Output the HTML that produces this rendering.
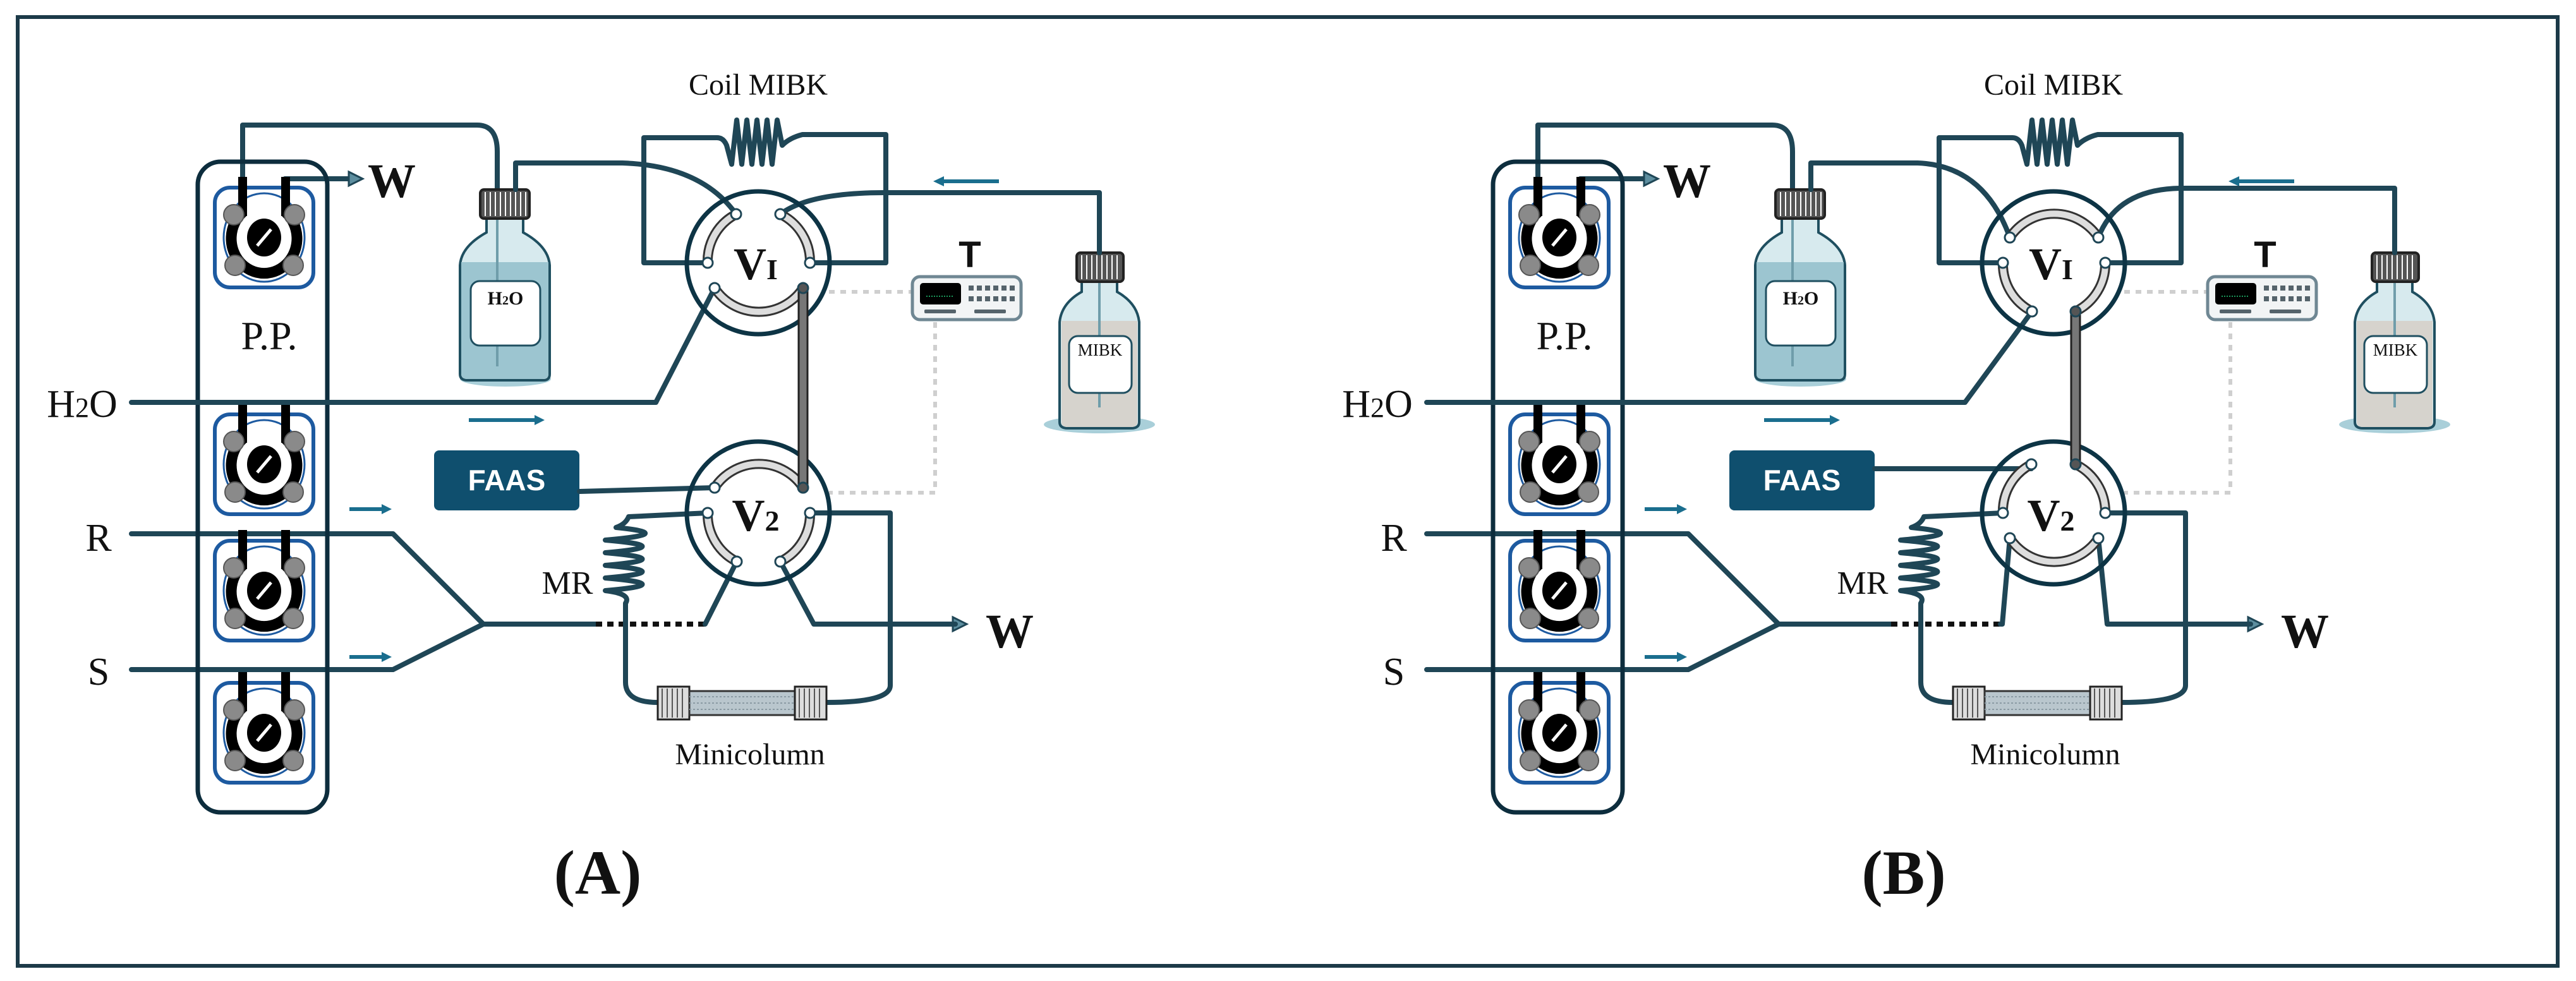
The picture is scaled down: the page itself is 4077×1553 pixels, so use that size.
<!DOCTYPE html>
<html><head><meta charset="utf-8"><style>
html,body{margin:0;padding:0;background:#fff;}
svg{display:block;}
.t{fill:none;stroke:#1f4656;stroke-width:8;stroke-linejoin:round;stroke-linecap:round;}
.ti{fill:none;stroke:#5d8e9f;stroke-width:3;stroke-linejoin:round;}
.ser{font-family:"Liberation Serif",serif;fill:#111;}
.dot{fill:none;stroke:#cfcfcf;stroke-width:6;stroke-dasharray:9 9;}
.ar{stroke:#1a6e8e;stroke-width:6;fill:none;}
</style></head><body>
<svg width="4077" height="1553" viewBox="0 0 4077 1553" xmlns="http://www.w3.org/2000/svg">
<defs>
<g id="pump">
<rect x="-78" y="-79" width="156" height="158" rx="24" fill="#fff" stroke="#1d5aa0" stroke-width="6"/>
<ellipse rx="64" ry="70" fill="none" stroke="#1d5aa0" stroke-width="3"/>
<path d="M-34,-40 A52,55 0 1,0 34,-40" fill="none" stroke="#000" stroke-width="17"/>
<rect x="-41" y="-96" width="14" height="62" fill="#000"/>
<rect x="27" y="-96" width="14" height="62" fill="#000"/>
<circle cx="-48" cy="-36" r="16" fill="#8a8a8a" stroke="#555" stroke-width="2"/>
<circle cx="48" cy="-36" r="16" fill="#8a8a8a" stroke="#555" stroke-width="2"/>
<circle cx="-46" cy="44" r="16" fill="#8a8a8a" stroke="#555" stroke-width="2"/>
<circle cx="46" cy="44" r="16" fill="#8a8a8a" stroke="#555" stroke-width="2"/>
<ellipse rx="27" ry="30" fill="#000"/>
<line x1="-11" y1="13" x2="11" y2="-13" stroke="#fff" stroke-width="5"/>
</g>
<g id="pumps">
<rect x="313" y="256" width="205" height="1030" rx="36" fill="none" stroke="#0d2d3d" stroke-width="7"/>
<use href="#pump" x="418" y="376"/>
<use href="#pump" x="418" y="735"/>
<use href="#pump" x="418" y="935"/>
<use href="#pump" x="418" y="1160"/>
<text x="426" y="553" font-size="64" text-anchor="middle" class="ser">P.P.</text>
</g>
<g id="bottleH">
<ellipse cx="800" cy="600" rx="72" ry="12" fill="#a9cfd9"/>
<path d="M770,345 L770,368 Q730,390 728,420 L728,592 Q728,602 740,602 L860,602 Q870,602 870,592 L870,420 Q868,390 828,368 L828,345 Z" fill="#d7eaee" stroke="#1f4f60" stroke-width="4"/>
<path d="M730,415 L868,415 L868,592 Q868,600 858,600 L740,600 Q730,600 730,592 Z" fill="#9cc5d0"/>
<line x1="787" y1="345" x2="787" y2="580" stroke="#6f9daa" stroke-width="4"/>
<rect x="745" y="445" width="110" height="102" rx="14" fill="#fff" stroke="#1f4f60" stroke-width="3"/>
<text x="800" y="482" font-size="30" text-anchor="middle" class="ser" font-weight="bold">H<tspan font-size="20">2</tspan>O</text>
<rect x="760" y="300" width="78" height="46" rx="6" fill="#555" stroke="#222" stroke-width="4"/>
<path d="M768,304v38M776,304v38M784,304v38M792,304v38M800,304v38M808,304v38M816,304v38M824,304v38M832,304v38" stroke="#fff" stroke-width="2"/>
</g>
<g id="bottleM">
<ellipse cx="1740" cy="672" rx="88" ry="14" fill="#a9cfd9"/>
<path d="M1712,445 L1712,462 Q1680,480 1677,510 L1677,668 Q1677,678 1690,678 L1790,678 Q1803,678 1803,668 L1803,510 Q1800,480 1768,462 L1768,445 Z" fill="#d7eaee" stroke="#1f4f60" stroke-width="4"/>
<path d="M1680,508 L1800,508 L1800,668 Q1800,676 1790,676 L1690,676 Q1680,676 1680,668 Z" fill="#d6d3cd"/>
<line x1="1740" y1="445" x2="1740" y2="645" stroke="#6f9daa" stroke-width="4"/>
<rect x="1692" y="532" width="99" height="90" rx="14" fill="#fff" stroke="#1f4f60" stroke-width="3"/>
<text x="1741" y="563" font-size="27" text-anchor="middle" class="ser">MIBK</text>
<rect x="1704" y="400" width="74" height="46" rx="6" fill="#555" stroke="#222" stroke-width="4"/>
<path d="M1712,404v38M1720,404v38M1728,404v38M1736,404v38M1744,404v38M1752,404v38M1760,404v38M1768,404v38" stroke="#fff" stroke-width="2"/>
</g>
<g id="tdev">
<rect x="1444" y="438" width="172" height="68" rx="12" fill="#f2f4f5" stroke="#6f8793" stroke-width="5"/>
<rect x="1456" y="448" width="65" height="34" rx="5" fill="#000"/>
<line x1="1466" y1="469" x2="1510" y2="469" stroke="#1a9a5a" stroke-width="2" stroke-dasharray="2 2"/>
<g fill="#55636b"><rect x="1533" y="452" width="8" height="8"/><rect x="1546" y="452" width="8" height="8"/><rect x="1559" y="452" width="8" height="8"/><rect x="1572" y="452" width="8" height="8"/><rect x="1585" y="452" width="8" height="8"/><rect x="1598" y="452" width="8" height="8"/>
<rect x="1533" y="469" width="8" height="8"/><rect x="1546" y="469" width="8" height="8"/><rect x="1559" y="469" width="8" height="8"/><rect x="1572" y="469" width="8" height="8"/><rect x="1585" y="469" width="8" height="8"/><rect x="1598" y="469" width="8" height="8"/>
<rect x="1463" y="490" width="50" height="6" rx="2"/><rect x="1542" y="490" width="50" height="6" rx="2"/></g>
<text x="1535" y="423" font-size="58" font-weight="bold" text-anchor="middle" font-family="Liberation Sans,sans-serif" fill="#111">T</text>
</g>
<g id="common">
<text x="1200" y="150" font-size="48" text-anchor="middle" class="ser">Coil MIBK</text>
<path class="t" d="M1120,416 L1019,416 L1019,218 L1135,218 Q1145,218 1150,230 l8,30 l8,-70 l8,70 l8,-70 l8,70 l8,-70 l8,70 l8,-70 l8,70 l8,-70 l8,40 Q1250,218 1270,213 L1402,213 L1402,416 L1282,416"/>
<path class="t" d="M384,282 L384,198 L755,198 Q787,198 787,240 L787,300"/>
<path class="t" d="M451,283 L555,283"/>
<path d="M552,272 L574,283 L552,294 Z" fill="#5d8e9f" stroke="#1f4656" stroke-width="3"/>
<text x="620" y="312" font-size="76" font-weight="bold" text-anchor="middle" class="ser">W</text>
<text x="130" y="660" font-size="62" text-anchor="middle" class="ser">H<tspan font-size="44">2</tspan>O</text>
<path class="ar" d="M742,665 L850,665"/><path d="M846,657 L862,665 L846,673 Z" fill="#1a6e8e"/>
<rect x="687" y="713" width="230" height="95" rx="8" fill="#0f4f6e"/>
<text x="802" y="776" font-size="46" font-weight="bold" text-anchor="middle" font-family="Liberation Sans,sans-serif" fill="#fff">FAAS</text>
<text x="156" y="872" font-size="62" text-anchor="middle" class="ser">R</text>
<text x="156" y="1084" font-size="62" text-anchor="middle" class="ser">S</text>
<path class="t" d="M208,845 L622,845 L765,988 L943,988"/>
<path class="t" d="M208,1060 L622,1060 L765,988"/>
<path d="M943,988 L1116,988" stroke="#111" stroke-width="8" stroke-dasharray="10 8" fill="none"/>
<path class="ar" d="M553,806 L608,806"/><path d="M604,798 L620,806 L604,814 Z" fill="#1a6e8e"/>
<path class="ar" d="M553,1040 L608,1040"/><path d="M604,1032 L620,1040 L604,1048 Z" fill="#1a6e8e"/>
<path class="ar" d="M1490,287 L1581,287"/><path d="M1494,279 L1477,287 L1494,295 Z" fill="#1a6e8e"/>
<text x="898" y="940" font-size="52" text-anchor="middle" class="ser">MR</text>
<path class="t" d="M1120,812 L995,818 Q990,830 975,835 Q1075,845 958,855 Q1075,865 958,875 Q1075,885 958,895 Q1075,905 958,915 Q1075,925 958,935 Q1000,940 990,955 L990,1080 Q990,1112 1041,1112"/>
<path class="t" d="M1282,812 L1409,812 L1409,1085 Q1409,1112 1308,1112"/>
<rect x="1041" y="1087" width="50" height="52" fill="#ddd" stroke="#222" stroke-width="3"/>
<path d="M1048,1090v46M1056,1090v46M1064,1090v46M1072,1090v46M1080,1090v46" stroke="#555" stroke-width="2"/>
<rect x="1091" y="1094" width="170" height="38" fill="#b9c6cd" stroke="#333" stroke-width="3"/>
<path d="M1091,1103h170M1091,1113h170M1091,1123h170" stroke="#8a9aa3" stroke-width="2" stroke-dasharray="3 3"/>
<rect x="1258" y="1087" width="50" height="52" fill="#ddd" stroke="#222" stroke-width="3"/>
<path d="M1265,1090v46M1273,1090v46M1281,1090v46M1289,1090v46M1297,1090v46" stroke="#555" stroke-width="2"/>
<text x="1187" y="1210" font-size="48" text-anchor="middle" class="ser">Minicolumn</text>
<path d="M1508,977 L1530,988 L1508,999 Z" fill="#5d8e9f" stroke="#1f4656" stroke-width="3"/>
<text x="1598" y="1025" font-size="76" font-weight="bold" text-anchor="middle" class="ser">W</text>
<path class="dot" d="M1312,462 L1444,462"/>
<path class="dot" d="M1480,510 L1480,780 L1312,780"/>
<use href="#bottleH"/><use href="#bottleM"/><use href="#tdev"/><use href="#pumps"/>
</g>
<g id="valve">
<circle r="113" fill="none" stroke="#0d3445" stroke-width="7"/>
</g>
</defs>

<rect x="28" y="27" width="4020" height="1502" fill="none" stroke="#1c3a48" stroke-width="6"/>

<g>
<use href="#common"/>
<path class="t" d="M816,300 L816,258 L985,258 Q1110,262 1165,339"/>
<path class="t" d="M1235,339 Q1280,305 1400,305 L1740,305 L1740,400"/>
<path class="t" d="M208,637 L1038,637 L1131,456"/>
<path class="t" d="M917,778 L1131,772"/>
<path class="t" d="M1166,889 L1116,988"/>
<path class="t" d="M1235,889 L1288,988 L1512,988"/>
<use href="#valve" x="1200" y="416"/>
<g fill="none">
<path d="M1165,339 A84,84 0 0,0 1120,416" stroke="#333" stroke-width="16"/><path d="M1165,339 A84,84 0 0,0 1120,416" stroke="#ddd" stroke-width="10"/>
<path d="M1235,339 A84,84 0 0,1 1282,416" stroke="#333" stroke-width="16"/><path d="M1235,339 A84,84 0 0,1 1282,416" stroke="#ddd" stroke-width="10"/>
<path d="M1131,456 A84,84 0 0,0 1271,456" stroke="#333" stroke-width="16"/><path d="M1131,456 A84,84 0 0,0 1271,456" stroke="#ddd" stroke-width="10"/>
</g>
<text x="1196" y="442" font-size="72" font-weight="bold" text-anchor="middle" class="ser">V<tspan font-size="46">I</tspan></text>
<use href="#valve" x="1200" y="812"/>
<g fill="none">
<path d="M1131,772 A84,84 0 0,1 1271,772" stroke="#333" stroke-width="16"/><path d="M1131,772 A84,84 0 0,1 1271,772" stroke="#ddd" stroke-width="10"/>
<path d="M1120,812 A84,84 0 0,0 1166,889" stroke="#333" stroke-width="16"/><path d="M1120,812 A84,84 0 0,0 1166,889" stroke="#ddd" stroke-width="10"/>
<path d="M1282,812 A84,84 0 0,1 1235,889" stroke="#333" stroke-width="16"/><path d="M1282,812 A84,84 0 0,1 1235,889" stroke="#ddd" stroke-width="10"/>
</g>
<text x="1196" y="840" font-size="72" font-weight="bold" text-anchor="middle" class="ser">V<tspan font-size="46">2</tspan></text>
<rect x="1264" y="456" width="14" height="316" fill="#777" stroke="#222" stroke-width="3"/>
<g fill="#fff" stroke="#1f4656" stroke-width="3">
<circle cx="1165" cy="339" r="8"/><circle cx="1235" cy="339" r="8"/><circle cx="1120" cy="416" r="8"/><circle cx="1282" cy="416" r="8"/><circle cx="1131" cy="456" r="8"/><circle cx="1271" cy="456" r="8" fill="#555"/>
<circle cx="1131" cy="772" r="8"/><circle cx="1271" cy="772" r="8" fill="#555"/><circle cx="1120" cy="812" r="8"/><circle cx="1282" cy="812" r="8"/><circle cx="1166" cy="889" r="8"/><circle cx="1235" cy="889" r="8"/>
</g>
<text x="946" y="1415" font-size="100" font-weight="bold" text-anchor="middle" class="ser">(A)</text>
</g>

<g transform="translate(2050,0)">
<use href="#common"/>
<path class="t" d="M816,300 L816,258 L985,258 Q1090,262 1131,376"/>
<path class="t" d="M1271,376 Q1300,300 1400,298 L1740,298 L1740,400"/>
<path class="t" d="M208,637 L1060,637 L1166,493"/>
<path class="t" d="M917,742 L1165,742"/>
<path class="t" d="M1131,852 L1119,988 L1116,988"/>
<path class="t" d="M1271,852 L1285,988 L1512,988"/>
<use href="#valve" x="1200" y="416"/>
<g fill="none">
<path d="M1131,376 A84,84 0 0,1 1271,376" stroke="#333" stroke-width="16"/><path d="M1131,376 A84,84 0 0,1 1271,376" stroke="#ddd" stroke-width="10"/>
<path d="M1120,416 A84,84 0 0,0 1166,493" stroke="#333" stroke-width="16"/><path d="M1120,416 A84,84 0 0,0 1166,493" stroke="#ddd" stroke-width="10"/>
<path d="M1282,416 A84,84 0 0,1 1235,493" stroke="#333" stroke-width="16"/><path d="M1282,416 A84,84 0 0,1 1235,493" stroke="#ddd" stroke-width="10"/>
</g>
<text x="1196" y="442" font-size="72" font-weight="bold" text-anchor="middle" class="ser">V<tspan font-size="46">I</tspan></text>
<use href="#valve" x="1200" y="812"/>
<g fill="none">
<path d="M1165,735 A84,84 0 0,0 1120,812" stroke="#333" stroke-width="16"/><path d="M1165,735 A84,84 0 0,0 1120,812" stroke="#ddd" stroke-width="10"/>
<path d="M1235,735 A84,84 0 0,1 1282,812" stroke="#333" stroke-width="16"/><path d="M1235,735 A84,84 0 0,1 1282,812" stroke="#ddd" stroke-width="10"/>
<path d="M1131,852 A84,84 0 0,0 1271,852" stroke="#333" stroke-width="16"/><path d="M1131,852 A84,84 0 0,0 1271,852" stroke="#ddd" stroke-width="10"/>
</g>
<text x="1196" y="840" font-size="72" font-weight="bold" text-anchor="middle" class="ser">V<tspan font-size="46">2</tspan></text>
<rect x="1228" y="493" width="14" height="242" fill="#777" stroke="#222" stroke-width="3"/>
<g fill="#fff" stroke="#1f4656" stroke-width="3">
<circle cx="1131" cy="376" r="8"/><circle cx="1271" cy="376" r="8"/><circle cx="1120" cy="416" r="8"/><circle cx="1282" cy="416" r="8"/><circle cx="1166" cy="493" r="8"/><circle cx="1235" cy="493" r="8" fill="#555"/>
<circle cx="1165" cy="735" r="8"/><circle cx="1235" cy="735" r="8" fill="#555"/><circle cx="1120" cy="812" r="8"/><circle cx="1282" cy="812" r="8"/><circle cx="1131" cy="852" r="8"/><circle cx="1271" cy="852" r="8"/>
</g>
<text x="963" y="1415" font-size="100" font-weight="bold" text-anchor="middle" class="ser">(B)</text>
</g>
</svg>
</body></html>
